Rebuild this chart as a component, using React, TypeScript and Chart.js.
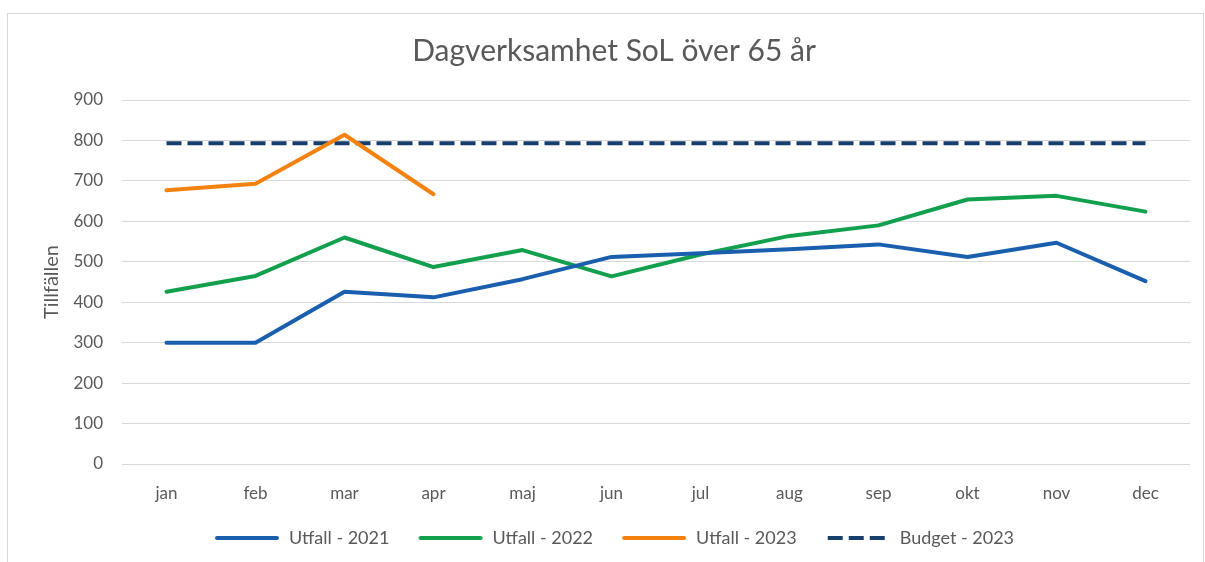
import React, { useEffect, useRef } from "react";
import { Chart, registerables } from "chart.js";

Chart.register(...registerables);

const months = ["jan", "feb", "mar", "apr", "maj", "jun", "jul", "aug", "sep", "okt", "nov", "dec"];
const utfall2021 = [300, 300, 426, 412, 457, 512, 521, 531, 543, 512, 547, 452];
const utfall2022 = [426, 465, 560, 487, 529, 464, 518, 564, 590, 654, 663, 624];
const utfall2023 = [677, 693, 814, 667, null, null, null, null, null, null, null, null];
const budget2023 = [793, 793, 793, 793, 793, 793, 793, 793, 793, 793, 793, 793];
const yTicks = [0, 100, 200, 300, 400, 500, 600, 700, 800, 900];

const FONT = "Lato, 'Open Sans', sans-serif";
const TXT = "#595959";
const SW = 66;

function legendSwatch(color: string, dash: number[]): HTMLCanvasElement {
  const c = document.createElement("canvas");
  c.width = SW;
  c.height = 8;
  const ctx = c.getContext("2d")!;
  ctx.strokeStyle = color;
  ctx.lineWidth = 4;
  ctx.lineCap = dash.length ? "butt" : "round";
  ctx.setLineDash(dash);
  ctx.beginPath();
  if (dash.length) {
    ctx.moveTo(3, 4);
    ctx.lineTo(60, 4);
  } else {
    ctx.moveTo(3, 4);
    ctx.lineTo(63, 4);
  }
  ctx.stroke();
  return c;
}

export default function App() {
  const ref = useRef<HTMLCanvasElement>(null);
  useEffect(() => {
    if (!ref.current) return;
    const common = {
      pointRadius: 0,
      pointHoverRadius: 0,
      borderWidth: 4,
      tension: 0,
      fill: false,
      borderCapStyle: "round" as const,
      borderJoinStyle: "round" as const,
    };
    const colors = ["#1a5fae", "#12a04e", "#f4820f", "#173f6d"];
    const swatches = [
      legendSwatch(colors[0], []),
      legendSwatch(colors[1], []),
      legendSwatch(colors[2], []),
      legendSwatch(colors[3], [15, 6]),
    ];
    const chart = new Chart(ref.current, {
      type: "line",
      data: {
        labels: months,
        datasets: [
          { ...common, label: "Utfall - 2021", data: utfall2021, borderColor: colors[0], backgroundColor: colors[0] },
          { ...common, label: "Utfall - 2022", data: utfall2022, borderColor: colors[1], backgroundColor: colors[1] },
          { ...common, label: "Utfall - 2023", data: utfall2023, borderColor: colors[2], backgroundColor: colors[2] },
          {
            ...common,
            label: "Budget - 2023",
            data: budget2023,
            borderColor: colors[3],
            backgroundColor: colors[3],
            borderDash: [15, 6],
            borderCapStyle: "butt" as const,
          },
        ],
      },
      options: {
        animation: false,
        responsive: false,
        devicePixelRatio: 1,
        layout: { padding: { left: 38, right: 15, top: 0, bottom: 5 } },
        plugins: {
          title: {
            display: true,
            text: "Dagverksamhet SoL över 65 år",
            color: TXT,
            font: { family: FONT, size: 30, weight: "normal" },
            padding: { top: 33, bottom: 31 },
          },
          legend: {
            position: "bottom",
            labels: {
              usePointStyle: true,
              pointStyleWidth: SW,
              color: TXT,
              font: { family: FONT, size: 18 },
              padding: 10,
              generateLabels: (ch: any) => {
                const items = Chart.defaults.plugins.legend.labels.generateLabels(ch);
                return items.map((it: any, i: number) => ({
                  ...it,
                  text: i < items.length - 1 ? it.text + " \u2003" : it.text,
                  pointStyle: swatches[i],
                }));
              },
            },
          },
          tooltip: { enabled: false },
        },
        scales: {
          x: {
            offset: true,
            grid: { display: false, drawTicks: false, offset: true },
            border: { display: false },
            ticks: { color: TXT, font: { family: FONT, size: 17 }, padding: 19 },
            afterFit: (s: any) => {
              s.height = 55;
            },
          },
          y: {
            min: 0,
            max: 900,
            afterBuildTicks: (s: any) => {
              s.ticks = yTicks.map((v) => ({ value: v }));
            },
            grid: { color: "#d9d9d9", lineWidth: 1, drawTicks: false },
            border: { display: false },
            ticks: { color: TXT, font: { family: FONT, size: 17 }, padding: 19 },
            title: {
              display: true,
              text: "Tillfällen",
              color: TXT,
              font: { family: FONT, size: 20 },
              padding: { top: 2, bottom: 0 },
            },
            afterFit: (s: any) => {
              s.width = 84;
            },
          },
        },
      },
    });
    return () => chart.destroy();
  }, []);

  return (
    <>
      <div
        style={{
          position: "absolute",
          left: 7,
          top: 13,
          width: 1197,
          height: 560,
          border: "1px solid #d9d9d9",
          boxSizing: "border-box",
        }}
      />
      <canvas
        ref={ref}
        width={1205}
        height={562}
        style={{ position: "absolute", left: 0, top: 0, width: 1205, height: 562 }}
      />
    </>
  );
}
